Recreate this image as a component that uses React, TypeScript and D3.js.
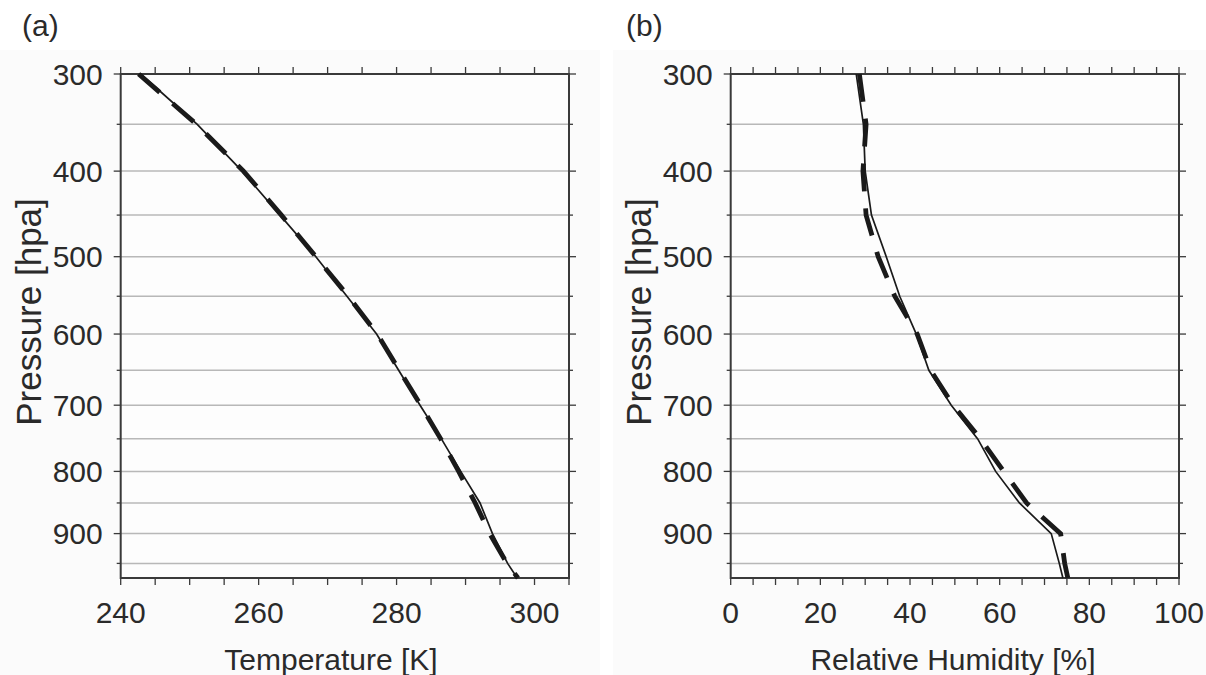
import React from "react";
import * as d3 from "d3";

// Pressure levels [hPa]
const pressure = [300, 350, 400, 450, 500, 550, 600, 650, 700, 750, 800, 850, 900, 950, 975];
// Panel (a): temperature [K]
const tempSolid = [242.9, 251.1, 257.6, 263.1, 268.3, 272.8, 277.1, 280.3, 283.4, 286.5, 289.3, 292.1, 293.9, 296.1, 297.5];
const tempDashed = [242.6, 251.0, 257.8, 263.3, 268.3, 273.0, 277.2, 280.4, 283.5, 286.4, 289.0, 291.4, 293.5, 296.0, 297.6];
// Panel (b): relative humidity [%]
const rhSolid = [28.0, 29.6, 30.0, 31.4, 34.7, 37.7, 41.4, 44.2, 49.2, 55.1, 59.1, 64.4, 71.5, 73.3, 74.1];
const rhDashed = [28.7, 30.2, 29.5, 30.2, 32.9, 36.6, 41.6, 44.6, 49.6, 55.7, 60.9, 66.0, 73.6, 74.5, 75.2];

const pressureTicks = [300, 400, 500, 600, 700, 800, 900];
const pressureMinor = [350, 450, 550, 650, 750, 850, 950];
const tempTicks = [240, 260, 280, 300];
const rhTicks = [0, 20, 40, 60, 80, 100];

const FONT = "Liberation Sans, Arial, Helvetica, sans-serif";
const AXIS = "#3a3a3a";
const GRID = "#b8b8b8";
const TEXT = "#2a2a2a";

type PanelProps = {
  left: number;
  right: number;
  xDomain: [number, number];
  xTicks: number[];
  xMinorStep: number;
  solid: number[];
  dashed: number[];
  xTitle: string;
  xTitleX: number;
  letter: string;
  letterX: number;
  yTitleX: number;
};

const TOP = 74;
const BOTTOM = 578;

function Panel(props: PanelProps) {
  const { left, right, xDomain, xTicks, xMinorStep, solid, dashed, xTitle, xTitleX, letter, letterX, yTitleX } = props;
  const x = d3.scaleLinear().domain(xDomain).range([left, right]);
  const y = d3.scaleSqrt().domain([300, 975]).range([TOP, BOTTOM]);
  const line = (vals: number[]) =>
    d3
      .line<number>()
      .x((d) => x(d))
      .y((_, i) => y(pressure[i]))(vals) || "";
  const minor = d3.range(xDomain[0], xDomain[1] + 0.001, xMinorStep);
  const allP = [...pressureTicks, ...pressureMinor];
  return (
    <g>
      <text x={letterX} y={36} fontSize={30} fontFamily={FONT} fill={TEXT}>
        {letter}
      </text>
      <rect x={left} y={TOP} width={right - left} height={BOTTOM - TOP} fill="#fdfdfd" />
      {pressureMinor.concat(pressureTicks.slice(1)).map((p) => (
        <line key={"g" + p} x1={left} x2={right} y1={y(p)} y2={y(p)} stroke={GRID} strokeWidth={1.5} />
      ))}
      {/* ticks */}
      {minor.map((v) => (
        <g key={"xt" + v}>
          <line x1={x(v)} x2={x(v)} y1={TOP} y2={TOP - 7} stroke={AXIS} strokeWidth={1.3} />
          <line x1={x(v)} x2={x(v)} y1={BOTTOM} y2={BOTTOM + 7} stroke={AXIS} strokeWidth={1.3} />
        </g>
      ))}
      {allP.map((p) => {
        const len = pressureTicks.includes(p) ? 7 : 4;
        return (
          <g key={"yt" + p}>
            <line x1={left} x2={left - len} y1={y(p)} y2={y(p)} stroke={AXIS} strokeWidth={1.3} />
            <line x1={right} x2={right + len} y1={y(p)} y2={y(p)} stroke={AXIS} strokeWidth={1.3} />
          </g>
        );
      })}
      <rect x={left} y={TOP} width={right - left} height={BOTTOM - TOP} fill="none" stroke={AXIS} strokeWidth={2} />
      {/* data */}
      <path d={line(solid)} fill="none" stroke="#1a1a1a" strokeWidth={1.7} />
      <path d={line(dashed)} fill="none" stroke="#1a1a1a" strokeWidth={4.8} strokeDasharray="28 17" />
      {/* labels */}
      {pressureTicks.map((p) => (
        <text
          key={"yl" + p}
          x={left - 18}
          y={y(p)}
          dy="0.36em"
          textAnchor="end"
          fontSize={30}
          fontFamily={FONT}
          fill={TEXT}
        >
          {p}
        </text>
      ))}
      {xTicks.map((v) => (
        <text key={"xl" + v} x={x(v)} y={623} textAnchor="middle" fontSize={30} fontFamily={FONT} fill={TEXT}>
          {v}
        </text>
      ))}
      <text x={xTitleX} y={670} textAnchor="middle" fontSize={30} fontFamily={FONT} fill={TEXT}>
        {xTitle}
      </text>
      <text
        transform={`translate(${yTitleX},${312}) rotate(-90)`}
        textAnchor="middle"
        fontSize={35}
        fontFamily={FONT}
        fill={TEXT}
      >
        Pressure [hpa]
      </text>
    </g>
  );
}

export default function App() {
  return (
    <svg
      width={1206}
      height={675}
      style={{ position: "absolute", left: 0, top: 0, background: "#ffffff" }}
    >
      <rect x={0} y={50} width={600} height={625} fill="#fbfbfb" />
      <rect x={613} y={50} width={593} height={625} fill="#fbfbfb" />
      <Panel
        left={120.7}
        right={569}
        xDomain={[240, 305]}
        xTicks={tempTicks}
        xMinorStep={5}
        solid={tempSolid}
        dashed={tempDashed}
        xTitle="Temperature [K]"
        xTitleX={331}
        letter="(a)"
        letterX={22}
        yTitleX={41}
      />
      <Panel
        left={730.7}
        right={1179}
        xDomain={[0, 100]}
        xTicks={rhTicks}
        xMinorStep={5}
        solid={rhSolid}
        dashed={rhDashed}
        xTitle="Relative Humidity [%]"
        xTitleX={953}
        letter="(b)"
        letterX={626}
        yTitleX={651}
      />
    </svg>
  );
}
